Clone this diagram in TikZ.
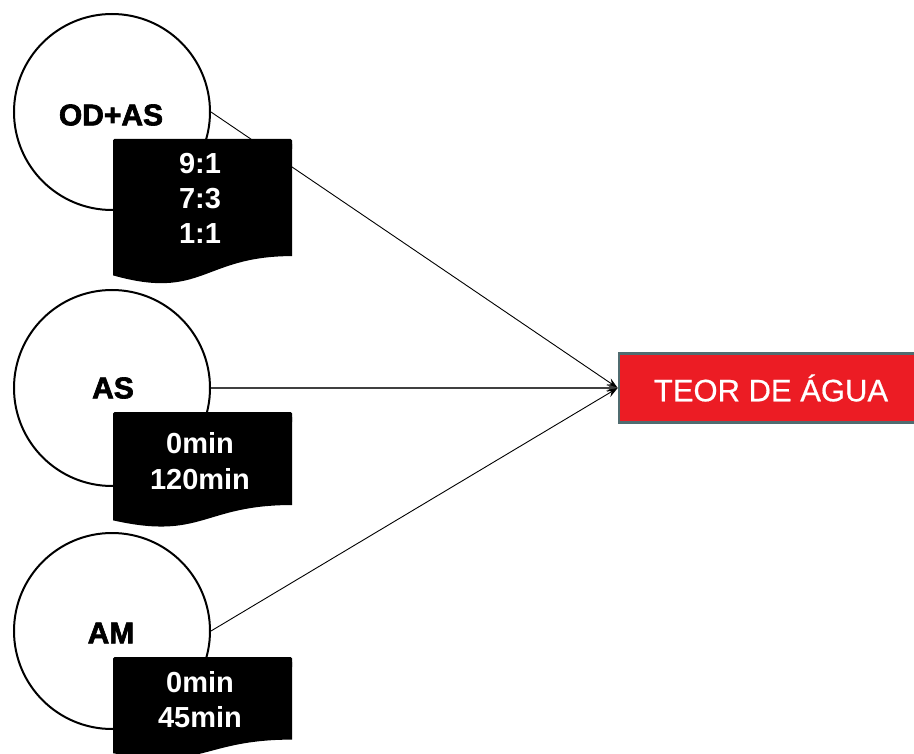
\documentclass[tikz,border=0pt]{standalone}
\usepackage{fontspec}
\setmainfont{Liberation Sans}
\newfontfamily\heavyfont[FakeBold=2.2]{Liberation Sans Bold}
\newfontfamily\midfont[FakeBold=0.6]{Liberation Sans}
\usetikzlibrary{arrows.meta}

% filled "document" flowchart shape: top-left corner (x,y), width w, height h
\newcommand\docpath[4]{%
  \fill[black, rounded corners=1.5] ({#1},{#2+10}) -- (#1,#2) -- ({#1+#3},#2)
    -- ({#1+#3},{#2+10});
  \fill[black] ({#1},{#2+5}) -- ({#1+#3},{#2+5}) -- ({#1+#3},{#2+0.802*#4})
    .. controls ({#1+0.5*#3},{#2+0.802*#4}) and ({#1+0.5*#3},{#2+1.108*#4})
    .. (#1,{#2+0.934*#4}) -- cycle;}

\begin{document}
\begin{tikzpicture}[x=1pt, y=-1pt,
  factor/.style={circle, draw=black, line width=2pt, fill=white,
    minimum size=196pt, inner sep=0pt},
  factortext/.style={font=\fontsize{30}{32}\heavyfont, text=black},
  leveltext/.style={font=\fontsize{29}{35}\selectfont\bfseries, text=white,
    align=center, inner sep=0pt},
  result/.style={draw={rgb,255:red,80;green,108;blue,112}, line width=2.6pt,
    fill={rgb,255:red,236;green,28;blue,36}, text=white,
    minimum width=304pt, minimum height=69pt, inner sep=0pt,
    font=\fontsize{31}{32}\midfont},
  link/.style={draw=black, line width=0.9pt,
    -{Stealth[length=11pt, width=8pt, inset=4pt]}}]
  \useasboundingbox (0,0) rectangle (914,754);
  \clip (0,0) rectangle (914,754);

  % the three factors
  \node[factor] (odas) at (112,112) {};
  \node[factortext] (odaslbl) at (111,115) {OD+AS};
  \node[factor] (as) at (112,388) {};
  \node[factortext] (aslbl) at (113,388) {AS};
  \node[factor] (am) at (112,631) {};
  \node[factortext] (amlbl) at (111,633) {AM};

  % levels of each factor
  \docpath{113}{139}{179}{146}
  \node[leveltext] (odaslev) at (200,198) {9:1\\7:3\\1:1};
  \docpath{113}{412}{179}{116}
  \node[leveltext] (aslev) at (200,461) {0min\\[1pt]120min};
  \docpath{113}{657}{179}{103}
  \node[leveltext] (amlev) at (200,700) {0min\\45min};

  % response variable
  \node[result] (teor) at (771,388) {TEOR DE ÁGUA};

  \draw[link] (odas.east) -- (teor.west);
  \draw[link, draw=black!75, line width=1.3pt] (as.east) -- (teor.west);
  \draw[link] (am.east) -- (teor.west);
\end{tikzpicture}
\end{document}
